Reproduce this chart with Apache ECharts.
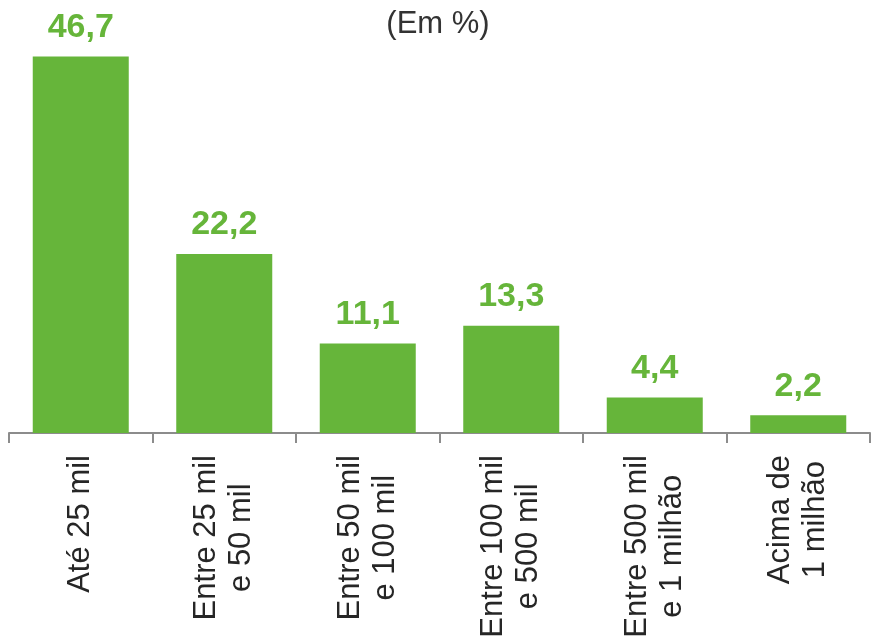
<!DOCTYPE html>
<html>
<head>
<meta charset="utf-8">
<script src="https://cdn.jsdelivr.net/npm/echarts@6/dist/echarts.min.js"></script>
<style>
html,body{margin:0;padding:0;background:#fff;}
#chart{width:876px;height:643px;}
</style>
</head>
<body>
<div id="chart"></div>
<script>
const categories = [
  "Até 25 mil",
  "Entre 25 mil\ne 50 mil",
  "Entre 50 mil\ne 100 mil",
  "Entre 100 mil\ne 500 mil",
  "Entre 500 mil\ne 1 milhão",
  "Acima de\n1 milhão"
];
const values = [46.7, 22.2, 11.1, 13.3, 4.4, 2.2];
const titleText = "(Em %)";

const FONT = "'Liberation Sans', Arial, sans-serif";
const GREEN = "#66B53A";

const chart = echarts.init(document.getElementById('chart'), null, {renderer: 'canvas'});
chart.setOption({
  animation: false,
  title: {
    text: titleText,
    left: 'center',
    top: 4,
    textStyle: {fontFamily: FONT, fontSize: 31, fontWeight: 'normal', color: '#333333'}
  },
  grid: {left: 9, right: 6, top: 30, bottom: 210, containLabel: false},
  xAxis: {
    type: 'category',
    data: categories,
    axisLine: {show: true, lineStyle: {color: '#8C8C8C', width: 2}},
    axisTick: {show: true, length: 10, alignWithLabel: false, lineStyle: {color: '#8C8C8C', width: 2}},
    axisLabel: {
      interval: 0,
      rotate: 90,
      margin: 22,
      fontFamily: FONT,
      fontSize: 31,
      color: '#262626',
      formatter: function (v) {
        return v.split('\n').map(function (s) { return '{c|' + s + '}'; }).join('\n');
      },
      rich: {
        c: {align: 'center', fontFamily: FONT, fontSize: 31, lineHeight: 35, color: '#262626'}
      }
    }
  },
  yAxis: {
    type: 'value',
    min: 0,
    max: 50,
    show: false,
    splitLine: {show: false}
  },
  series: [{
    type: 'bar',
    data: values,
    barWidth: 96,
    itemStyle: {color: GREEN},
    label: {
      show: true,
      position: 'top',
      distance: 12,
      fontFamily: FONT,
      fontSize: 34,
      fontWeight: 'bold',
      color: GREEN,
      formatter: function (p) { return String(p.value).replace('.', ','); }
    }
  }]
});
</script>
</body>
</html>
